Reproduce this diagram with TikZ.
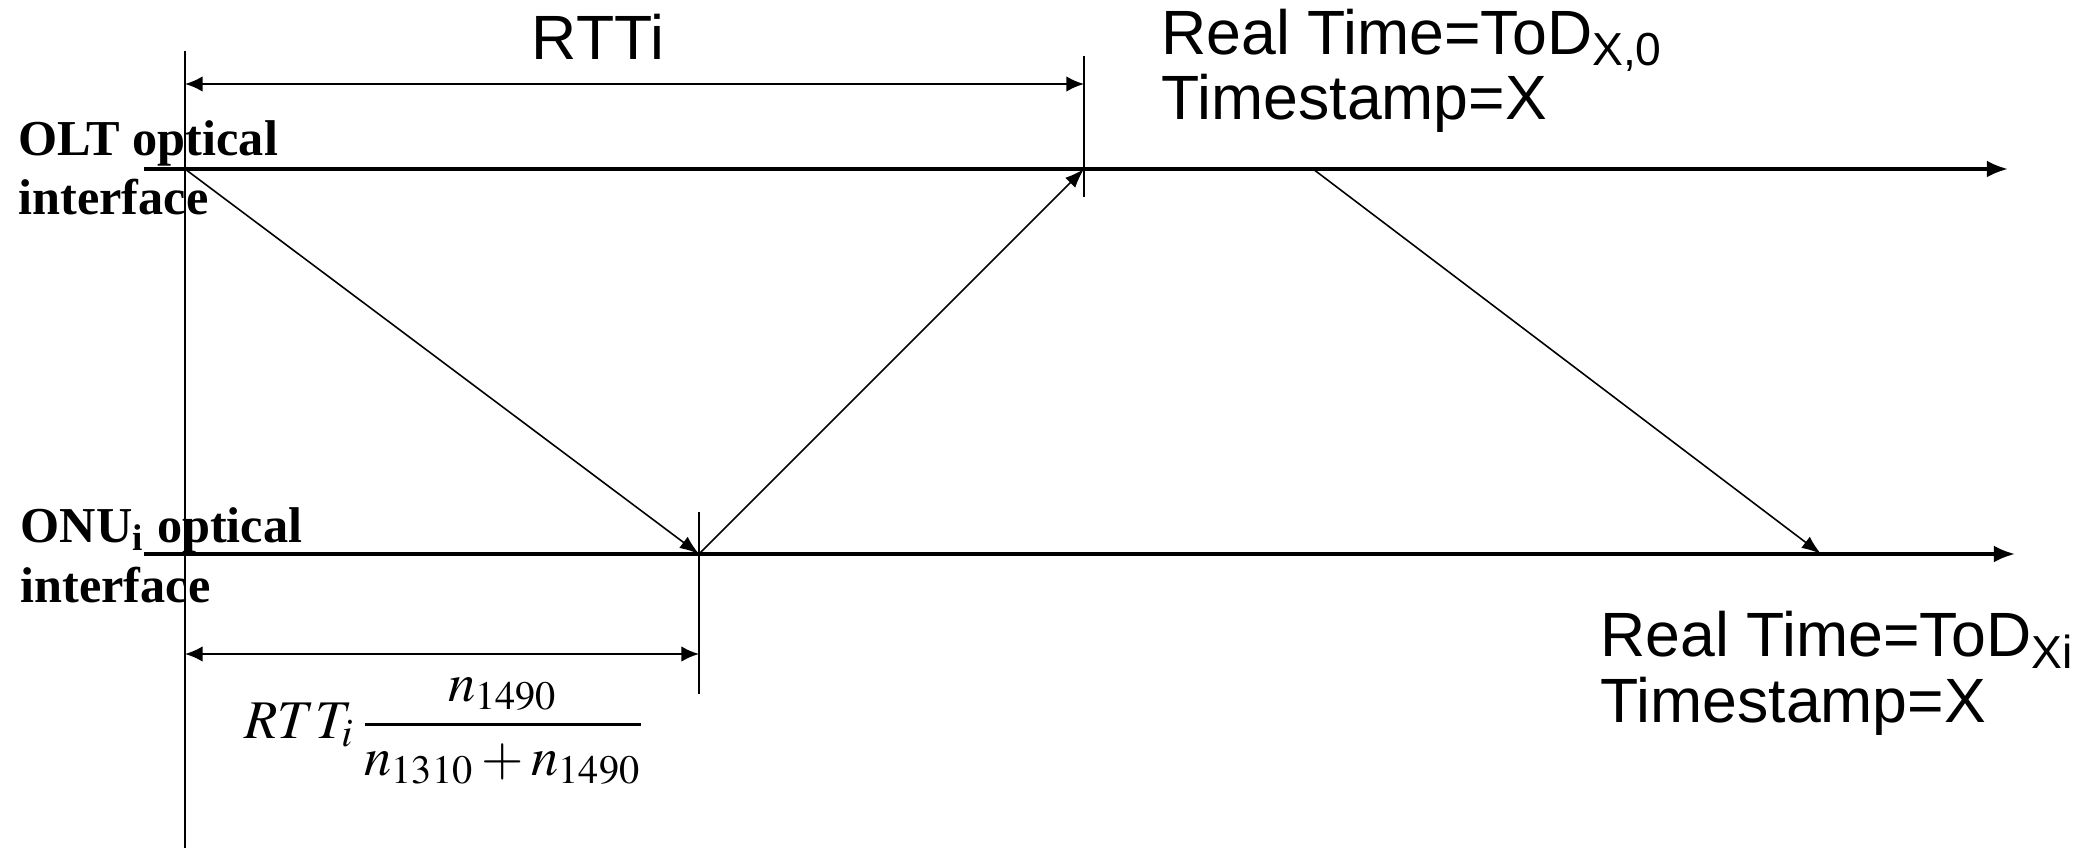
\documentclass[tikz,border=0pt]{standalone}
\usepackage{mathptmx}
\usepackage{fontspec}
\setmainfont{Liberation Serif}
\setsansfont{Liberation Sans}
\usepackage{tikz}
\usetikzlibrary{positioning}
\usetikzlibrary{arrows.meta, calc}

\tikzset{
    axis/.style={line width=0.95pt, -{Latex[length=6pt,width=4.8pt]}},
    msg/.style={line width=0.45pt, -{Latex[length=5.5pt,width=4pt]}},
    dim/.style={line width=0.6pt, {Latex[length=5pt,width=4.4pt]}-{Latex[length=5pt,width=4.4pt]}},
    tick/.style={line width=0.45pt},
    lbl/.style={inner sep=0pt, font=\sffamily\fontsize{17.8}{18.6}\selectfont},
    side/.style={inner sep=0pt, font=\bfseries\fontsize{14.3}{17}\selectfont},
}

\begin{document}
\begin{tikzpicture}
    \useasboundingbox (0,0) rectangle (20.86,8.48);

    % time axes
    \coordinate (olt0) at (1.44,6.79);
    \coordinate (olt1) at (20.08,6.79);
    \coordinate (onu0) at (1.44,2.94);
    \coordinate (onu1) at (20.15,2.94);
    \draw[axis] (olt0) -- (olt1);
    \draw[axis] (onu0) -- (onu1);

    \node[side, anchor=base west, align=left] (oltLbl) at (0.18,6.33) {OLT optical\\interface};
    \node[side, anchor=base west, align=left] (onuLbl) at (0.20,2.46) {ONU\textsubscript{i} optical\\interface};

    % reference line and ticks
    \coordinate (refTop) at (1.85,7.97);
    \coordinate (refBot) at (1.85,0);
    \draw[tick] (refTop) -- (refBot);
    \coordinate (rttTop) at (10.84,7.92);
    \coordinate (rttBot) at (10.84,6.51);
    \draw[tick] (rttTop) -- (rttBot);
    \coordinate (onuTop) at (6.99,3.36);
    \coordinate (onuBot) at (6.99,1.54);
    \draw[tick] (onuTop) -- (onuBot);

    % messages
    \coordinate (tx) at (1.85,6.79);
    \coordinate (rx) at (6.99,2.94);
    \coordinate (back) at (10.84,6.79);
    \coordinate (ts) at (13.13,6.79);
    \coordinate (tsRx) at (18.21,2.94);
    \draw[msg] (tx) -- (rx);
    \draw[msg] (rx) -- (back);
    \draw[msg] (ts) -- (tsRx);

    % round trip
    \coordinate (rttL) at (1.85,7.64);
    \coordinate (rttR) at (10.84,7.64);
    \draw[dim] (rttL) -- (rttR);
    \node[lbl, anchor=base] (rttLbl) at (5.98,7.88) {RTTi};

    \coordinate (owL) at (1.85,1.94);
    \coordinate (owR) at (6.99,1.94);
    \draw[dim] (owL) -- (owR);
    \node[font=\fontsize{15.5}{18}\selectfont] (owLbl) at (4.45,1.17) {$\displaystyle RTT_i\,\frac{n_{1490}}{n_{1310}+n_{1490}}$};

    % time of day
    \node[lbl, anchor=base west, align=left] (todX) at (11.61,7.28) {Real Time=ToD\textsubscript{X,0}\\Timestamp=X};
    \node[lbl, anchor=base west, align=left] (todXi) at (16.00,1.26) {Real Time=ToD\textsubscript{Xi}\\Timestamp=X};
\end{tikzpicture}
\end{document}
